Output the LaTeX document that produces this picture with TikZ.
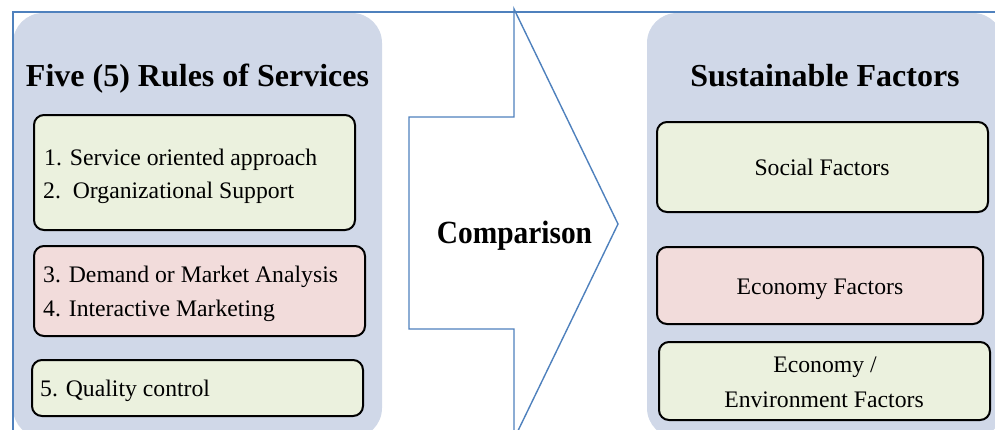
\documentclass[tikz,border=0pt]{standalone}
\usepackage{fontspec}
\setmainfont{Liberation Serif}
\usepackage{graphicx}
\definecolor{panelblue}{RGB}{208,216,232}
\definecolor{boxgreen}{RGB}{235,241,222}
\definecolor{boxpink}{RGB}{242,220,219}
\definecolor{lineblue}{RGB}{79,129,189}
\begin{document}
\begin{tikzpicture}[x=1pt,y=-1pt,
  panel/.style={fill=panelblue,draw=none,rounded corners=30pt,inner sep=0pt},
  itembox/.style={draw=black,line width=2pt,rounded corners=10pt,inner sep=0pt},
  greenbox/.style={itembox,fill=boxgreen},
  pinkbox/.style={itembox,fill=boxpink},
  bluestroke/.style={draw=lineblue,line width=1.4pt},
  bodytext/.style={font=\fontsize{23.7}{28}\selectfont,inner sep=0pt,anchor=base west},
  centertext/.style={font=\fontsize{23.7}{28}\selectfont,inner sep=0pt,anchor=base},
  titletext/.style={font=\fontsize{32}{38}\selectfont\bfseries,inner sep=0pt,anchor=base}]
\useasboundingbox (0,0) rectangle (995,429);
\clip (0,0) rectangle (995,429);
% panels
\node[panel,minimum width=369pt,minimum height=425pt] (lpanel) at (197.5,225.5) {};
\node[panel,minimum width=356pt,minimum height=425pt] (rpanel) at (825,225.5) {};
% left boxes
\node[greenbox,minimum width=321pt,minimum height=115pt] (b1) at (194.5,172.5) {};
\node[pinkbox,minimum width=331pt,minimum height=90pt] (b2) at (199.5,291) {};
\node[greenbox,minimum width=331pt,minimum height=56pt] (b3) at (197.5,388) {};
% right boxes
\node[greenbox,minimum width=331pt,minimum height=90pt] (r1) at (822.5,167) {};
\node[pinkbox,minimum width=326pt,minimum height=77pt] (r2) at (820,285.5) {};
\node[greenbox,minimum width=331pt,minimum height=78pt] (r3) at (824.5,381) {};
% titles
\node[titletext] (ltitle) at (197.5,86) {Five (5) Rules of Services};
\node[titletext] (rtitle) at (825,86) {Sustainable Factors};
% left texts
\node[bodytext] (t1) at (44,165) {1. Service oriented approach};
\node[bodytext] (t2) at (43,198) {2.\ \ Organizational Support};
\node[bodytext] (t3) at (43,282) {3. Demand or Market Analysis};
\node[bodytext] (t4) at (43,316) {4. Interactive Marketing};
\node[bodytext] (t5) at (40,396) {5. Quality control};
% right texts
\node[centertext] (s1) at (822,175) {Social Factors};
\node[centertext] (s2) at (820,294) {Economy Factors};
\node[centertext] (s3) at (825,372) {Economy /};
\node[centertext] (s4) at (824,407) {Environment Factors};
% arrow
\path[bluestroke,fill=white,line join=miter] (514,9) -- (618,224) -- (514,439) -- (514,329) -- (409,329) -- (409,117) -- (514,117) -- cycle;
\node[inner sep=0pt,anchor=base,font=\fontsize{29.4}{35}\selectfont\bfseries] (cmp) at (514.5,243) {\scalebox{1}[1.1]{Comparison}};
% frame lines
\draw[bluestroke] (13,440) -- (13,12) -- (1000,12);
\end{tikzpicture}
\end{document}
